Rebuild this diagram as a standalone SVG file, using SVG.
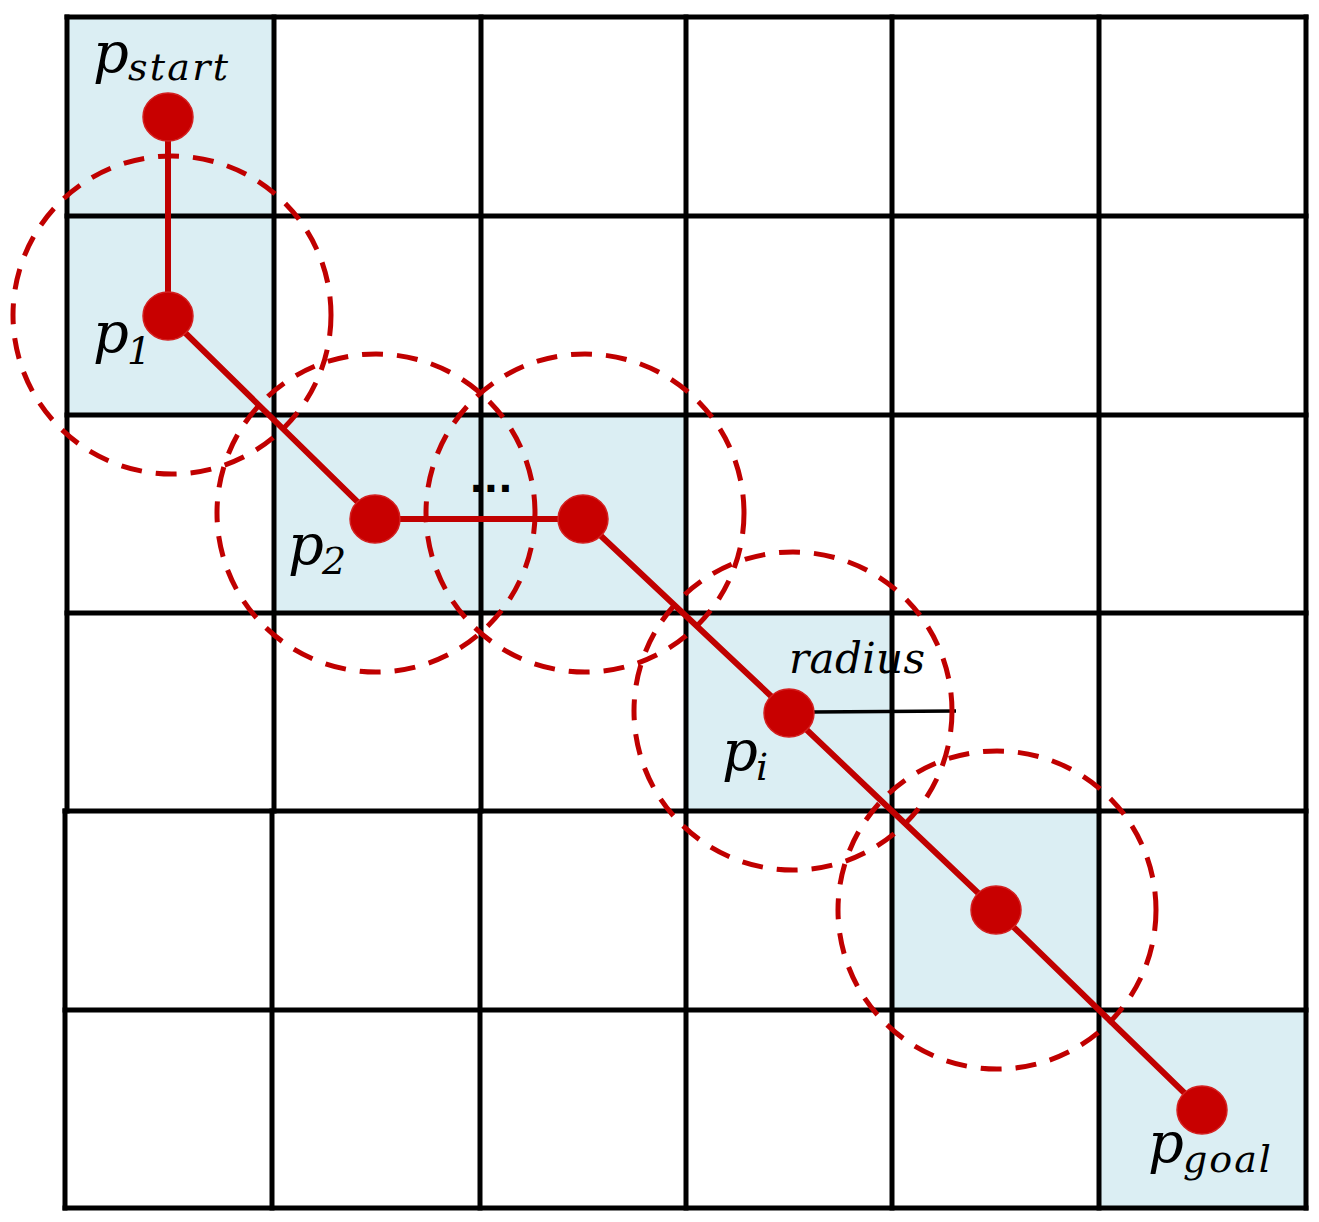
<svg xmlns="http://www.w3.org/2000/svg" width="1319" height="1222" viewBox="0 0 1319 1222">
<style>
.cell{fill:#dbeef3}
.grid{stroke:#000;stroke-width:5;fill:none;stroke-linecap:square}
.path{stroke:#c00000;stroke-width:6;fill:none;stroke-linejoin:round}
.dot{fill:#c80000;stroke:#d42020;stroke-width:1.5}
.ring{fill:none;stroke:#c00000;stroke-width:5;stroke-dasharray:21 14}
.m{font-family:"DejaVu Serif","Liberation Serif",serif;font-style:italic;fill:#000}
.big{font-size:56px}
.sub{font-size:38px}
</style>
<rect width="1319" height="1222" fill="#fff"/>
<g id="shading">
<rect class="cell" x="67" y="17" width="207" height="398"/>
<rect class="cell" x="274" y="415" width="412" height="198"/>
<rect class="cell" x="686" y="613" width="206" height="198"/>
<rect class="cell" x="892" y="811" width="207" height="199"/>
<rect class="cell" x="1099" y="1010" width="207" height="198"/>
</g>
<g id="grid" class="grid">
<path d="M67 17V811M274 17V811M481 17V811M686 17V811M892 17V811M1099 17V811M1306 17V1208"/>
<path d="M65 811V1208M272 811V1208M480 811V1208M686 811V1208M892 811V1208M1099 811V1208"/>
<path d="M67 17H1306M67 216H1306M67 415H1306M67 613H1306M65 811H1306M65 1010H1306M65 1208H1306"/>
</g>
<g id="connectors">
<path class="path" d="M168 117V316L375 519H583L789 713L996 910L1202 1110"/>
<line x1="812" y1="712" x2="956" y2="711" stroke="#000" stroke-width="3.5"/>
</g>
<g id="rings">
<circle class="ring" cx="172" cy="315" r="159"/>
<circle class="ring" cx="376" cy="513" r="159"/>
<circle class="ring" cx="585" cy="513" r="159"/>
<circle class="ring" cx="793" cy="711" r="159"/>
<circle class="ring" cx="997" cy="910" r="159"/>
</g>
<g id="p_start">
<ellipse class="dot" cx="168" cy="117" rx="25" ry="24"/>
<text class="m big" x="93" y="72">p</text>
<text class="m sub" x="128" y="80" textLength="100">start</text>
</g>
<g id="p_1">
<ellipse class="dot" cx="168" cy="316" rx="25" ry="24"/>
<text class="m big" x="93" y="352">p</text>
<text class="m sub" x="127" y="364">1</text>
</g>
<g id="p_2">
<ellipse class="dot" cx="375" cy="519" rx="25" ry="24"/>
<text class="m big" x="288" y="564">p</text>
<text class="m sub" x="322" y="574">2</text>
</g>
<g id="ellipsis">
<text x="470" y="492" font-family="Liberation Sans,sans-serif" font-weight="bold" font-size="48" letter-spacing="1" fill="#000">...</text>
</g>
<g id="p_3">
<ellipse class="dot" cx="583" cy="519" rx="25" ry="24"/>
</g>
<g id="p_i">
<ellipse class="dot" cx="789" cy="713" rx="25" ry="24"/>
<text class="m big" x="722" y="770">p</text>
<text class="m sub" x="756" y="780">i</text>
<text class="m" font-size="42" x="789" y="673" textLength="136">radius</text>
</g>
<g id="p_5">
<ellipse class="dot" cx="996" cy="910" rx="25" ry="24"/>
</g>
<g id="p_goal">
<ellipse class="dot" cx="1202" cy="1110" rx="25" ry="24"/>
<text class="m big" x="1148" y="1162">p</text>
<text class="m sub" x="1183" y="1172" textLength="88">goal</text>
</g>
</svg>
